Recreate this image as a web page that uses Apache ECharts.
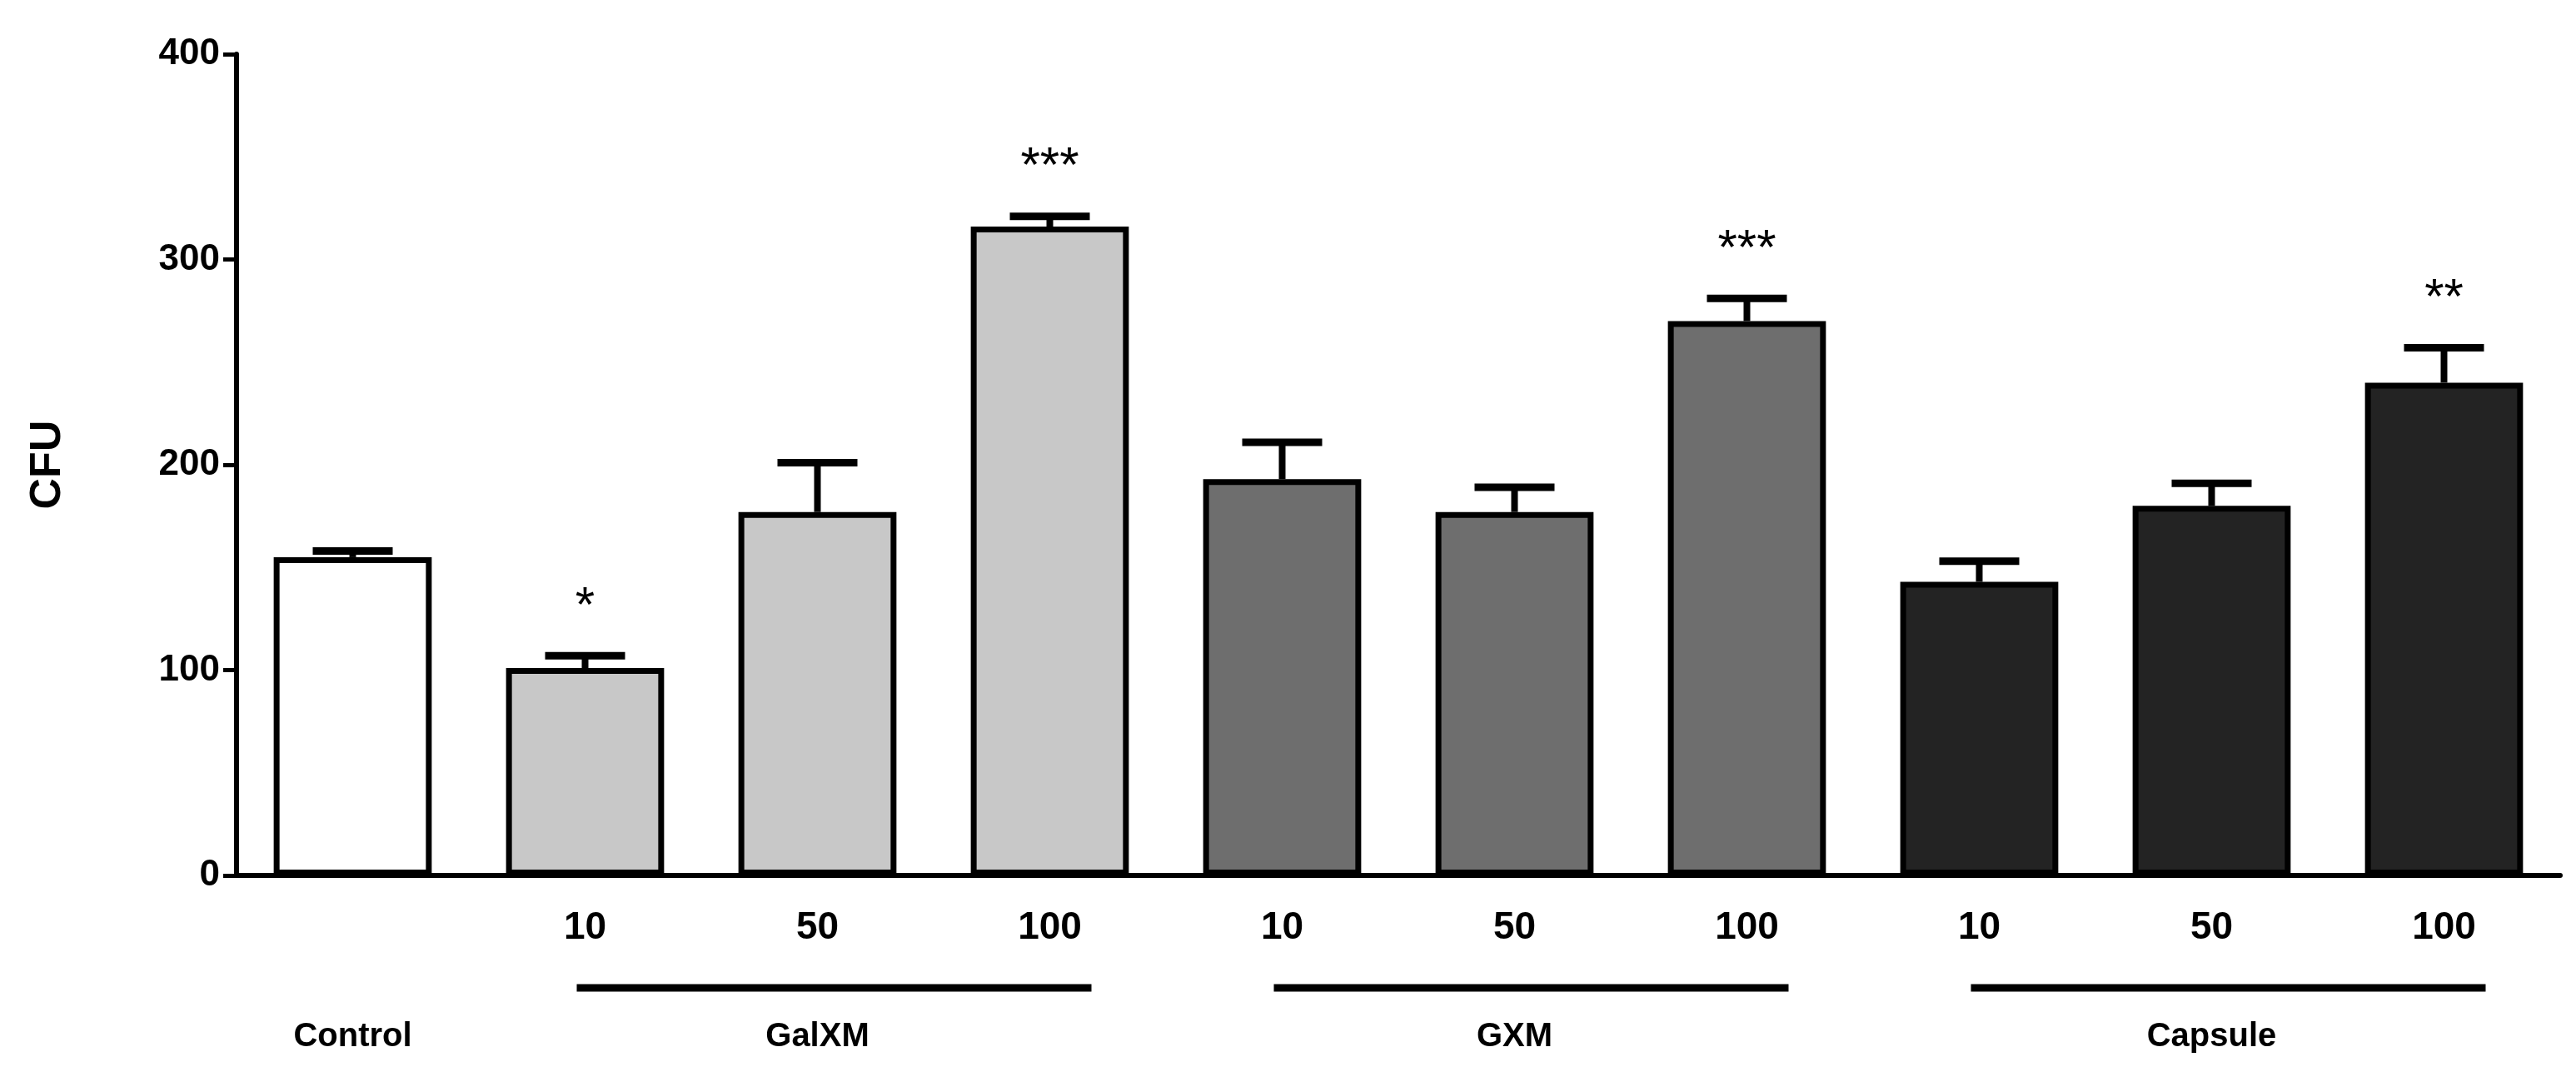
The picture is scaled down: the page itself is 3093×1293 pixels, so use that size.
<!DOCTYPE html>
<html><head><meta charset="utf-8">
<script src="https://cdn.jsdelivr.net/npm/echarts@6/dist/echarts.min.js"></script>
<style>html,body{margin:0;padding:0;background:#fff}#c{width:3093px;height:1293px}</style>
</head><body><div id="c"></div>
<script>
const categories = ['', '10', '50', '100', '10', '50', '100', '10', '50', '100'];
const values = [155, 101, 177, 316, 193, 177, 270, 143, 180, 240];
const errors = [3, 6, 24, 5, 18, 12, 11, 10, 11, 17];
const stars = ['', '*', '', '***', '', '', '***', '', '', '**'];
const colors = ['#ffffff', '#c8c8c8', '#c8c8c8', '#c8c8c8', '#6e6e6e', '#6e6e6e', '#6e6e6e', '#232323', '#232323', '#232323'];
const groups = [{name: 'GalXM', from: 1, to: 3}, {name: 'GXM', from: 4, to: 6}, {name: 'Capsule', from: 7, to: 9}];
const yTicks = [0, 100, 200, 300, 400];

const chart = echarts.init(document.getElementById('c'));
const F = '"Liberation Sans", Arial, sans-serif';
const option = {
  animation: false,
  grid: {left: 284, right: 19, top: 65, bottom: 242},
  xAxis: {
    type: 'category', data: categories,
    axisLine: {lineStyle: {color: '#000', width: 6}},
    axisTick: {alignWithLabel: true, length: 22, lineStyle: {color: '#000', width: 4}},
    axisLabel: {color: '#000', fontFamily: F, fontWeight: 'bold', fontSize: 46, margin: 40}
  },
  yAxis: {
    type: 'value', min: 0, max: 400, interval: 100,
    name: 'CFU', nameLocation: 'middle', nameGap: 200, nameRotate: 90,
    nameTextStyle: {color: '#000', fontFamily: F, fontWeight: 'bold', fontSize: 52},
    splitLine: {show: false},
    axisLine: {show: true, lineStyle: {color: '#000', width: 6}},
    axisTick: {show: true, length: 16, lineStyle: {color: '#000', width: 5}},
    axisLabel: {color: '#000', fontFamily: F, fontWeight: 'bold', fontSize: 44, margin: 20,
      formatter: v => yTicks.includes(v) ? String(v) : ''}
  },
  series: [
    {type: 'bar', barWidth: '68%',
     data: values.map((v, i) => ({value: v, itemStyle: {color: colors[i], borderColor: '#000', borderWidth: 7}}))},
    {type: 'custom', z: 5,
     data: values.map((v, i) => [i, v, errors[i], stars[i]]),
     renderItem: (params, api) => {
       const i = api.value(0), v = api.value(1), e = api.value(2);
       const p0 = api.coord([i, v]), p1 = api.coord([i, v + e]);
       const hw = 48;
       const s = stars[i];
       const ch = [
         {type: 'line', shape: {x1: p0[0], y1: p0[1], x2: p1[0], y2: p1[1]}, style: {stroke: '#000', lineWidth: 8}},
         {type: 'line', shape: {x1: p1[0] - hw, y1: p1[1], x2: p1[0] + hw, y2: p1[1]}, style: {stroke: '#000', lineWidth: 9}}
       ];
       if (s) ch.push({type: 'text', style: {text: s, x: p1[0], y: p1[1] - 28, align: 'center', verticalAlign: 'bottom',
         fill: '#000', font: '60px "Liberation Sans", Arial, sans-serif'}});
       return {type: 'group', children: ch};
     }}
  ]
};
chart.setOption(option);
const g = [];
const cx = i => chart.convertToPixel({xAxisIndex: 0}, i);
const baseY = 1051;
g.push({type: 'text', style: {text: 'Control', x: cx(0), y: 1245, align: 'center', verticalAlign: 'middle',
  fill: '#000', font: 'bold 40px "Liberation Sans", Arial, sans-serif'}});
groups.forEach(gr => {
  const x1 = cx(gr.from) - 10, x2 = cx(gr.to) + 50;
  g.push({type: 'line', shape: {x1, y1: 1186, x2, y2: 1186}, style: {stroke: '#000', lineWidth: 9}});
  g.push({type: 'text', style: {text: gr.name, x: cx(gr.from + 1), y: 1245, align: 'center', verticalAlign: 'middle',
    fill: '#000', font: 'bold 40px "Liberation Sans", Arial, sans-serif'}});
});
chart.setOption({graphic: g});
</script></body></html>
